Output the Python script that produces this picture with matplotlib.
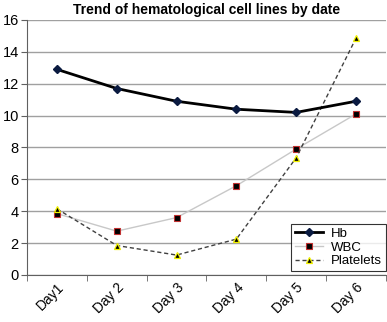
import numpy as np
import matplotlib.pyplot as plt

plt.rcParams['font.family'] = ['Liberation Sans', 'DejaVu Sans']

days = ['Day1', 'Day 2', 'Day 3', 'Day 4', 'Day 5', 'Day 6']
hb = [12.9, 11.7, 10.9, 10.4, 10.2, 10.9]
wbc = [3.85, 2.75, 3.6, 5.6, 7.9, 10.1]
platelets = [4.15, 1.85, 1.25, 2.25, 7.35, 14.85]

fig = plt.figure(figsize=(3.87, 3.22), dpi=100)
ax = fig.add_axes([0.070, 0.146, 0.927, 0.792])

x = np.arange(len(days))
ax.plot(x, hb, color='black', lw=2, marker='D', ms=4,
        mfc='#0a1a40', mec='#0a1a40', label='Hb', zorder=4)
ax.plot(x, wbc, color='#c8c8c8', lw=1, marker='s', ms=5,
        mfc='black', mec='#c03030', mew=0.8, label='WBC', zorder=3)
ax.plot(x, platelets, color='#404040', lw=1, ls=(0, (3, 2)), marker='^', ms=5,
        mfc='black', mec='#f0f000', mew=0.9, label='Platelets', zorder=3)

ax.set_xlim(-0.5, 5.5)
ax.set_ylim(0, 16)
ax.set_yticks(np.arange(0, 17, 2))
ax.yaxis.grid(True, color='#a0a0a0', lw=1)
ax.set_axisbelow(True)
ax.set_xticks(x)
ax.set_xticklabels(days, rotation=45, ha='right', rotation_mode='anchor', fontsize=10)
ax.set_xticks(np.arange(-0.5, 6, 1), minor=True)
ax.tick_params(axis='x', which='major', length=0, pad=4)
ax.tick_params(axis='x', which='minor', length=4, color='#606060')
ax.tick_params(axis='y', labelsize=10.5, length=4, color='#606060', pad=2)
for s in ['top', 'right']:
    ax.spines[s].set_visible(False)
for s in ['left', 'bottom']:
    ax.spines[s].set_color('#606060')

ax.set_title('Trend of hematological cell lines by date', fontsize=10,
             fontweight='bold', pad=4)
leg = ax.legend(loc='lower right', bbox_to_anchor=(1.0, 0.015), fontsize=9.5,
                frameon=True, fancybox=False, edgecolor='black',
                handlelength=2.1, handletextpad=0.6, borderpad=0.3,
                labelspacing=0.1, borderaxespad=0)
leg.get_frame().set_linewidth(0.8)

fig.savefig('out.png', dpi=100)
